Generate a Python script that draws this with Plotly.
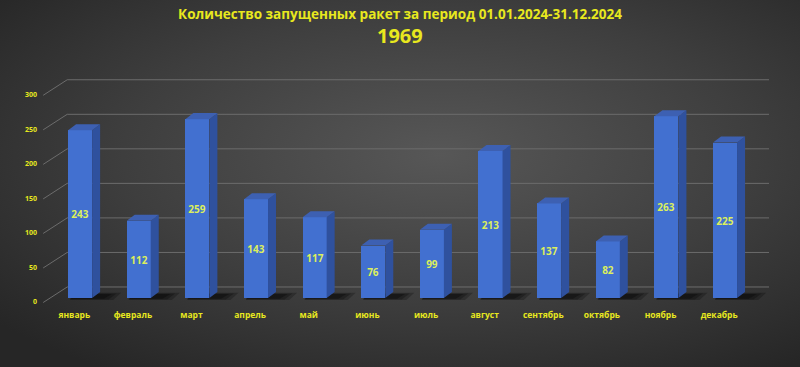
import base64
import plotly.graph_objects as go

# ---- data ----
months = ["январь", "февраль", "март", "апрель", "май", "июнь",
          "июль", "август", "сентябрь", "октябрь", "ноябрь", "декабрь"]
launches = [243, 112, 259, 143, 117, 76, 99, 213, 137, 82, 263, 225]
y_ticks = [0, 50, 100, 150, 200, 250, 300]
title_text = "Количество запущенных ракет за период 01.01.2024-31.12.2024"
total_text = "1969"

# ---- geometry / style ----
W, H = 800, 367
ML, MR, MT, MB = 42, 31, 77, 60
XR = [-0.65, 11.75]
YR = [-13, 320]
bw = 0.41              # bar width (x units)
dx, dy = 0.1365, 8.7   # 3D depth offset (x units, y units)
lab_shift = 5.8        # y-label offset (units)
xlab_shift = 0.1       # month-label offset (units)
yellow = "#e8e81e"
font_family = "Open Sans"

idx = list(range(len(months)))
shapes = []

# back-wall grid lines with diagonal connectors (below bars)
for v in y_ticks:
    path = f"M -0.63 {v - 6.5} L -0.22 {v + 16} L {XR[1]} {v + 16}"
    shapes.append(dict(type="path", path=path, xref="x", yref="y", layer="below",
                       line=dict(color="#6c6c6c", width=1)))

# soft floor shadows (below bars)
for i in idx:
    l, r = i - bw / 2, i + bw / 2
    for k, (ext, a) in enumerate([(0.36, 0.25), (0.28, 0.3), (0.2, 0.35)]):
        path = (f"M {l + 0.03} {-3 + k} L {r + ext} {-3 + k} L {r + ext + dx} {dy - 1 - k} "
                f"L {l + dx} {dy - 1 - k} Z")
        shapes.append(dict(type="path", path=path, xref="x", yref="y", layer="below",
                           fillcolor=f"rgba(5,5,5,{a})", line=dict(width=0)))

fig = go.Figure()

# front faces
fig.add_trace(go.Bar(
    x=idx, y=launches, width=bw,
    marker=dict(color="#4270d0", line=dict(width=0)),
    text=[str(v) for v in launches], textposition="inside",
    insidetextanchor="middle", textangle=0,
    textfont=dict(family=font_family, size=10, color="#dcef5c", weight="bold"),
    showlegend=False, hoverinfo="x+y",
))

# side faces
fx, fy = [], []
for i, v in zip(idx, launches):
    r = i + bw / 2
    fx += [r, r + dx, r + dx, r, r, None]
    fy += [0, dy, v + dy, v, 0, None]
fig.add_trace(go.Scatter(x=fx, y=fy, mode="lines", fill="toself",
                         fillcolor="#2f519e", line=dict(width=0),
                         hoverinfo="skip", showlegend=False))

# top faces
tx, ty = [], []
for i, v in zip(idx, launches):
    l, r = i - bw / 2, i + bw / 2
    tx += [l, r, r + dx, l + dx, l, None]
    ty += [v, v, v + dy, v + dy, v, None]
fig.add_trace(go.Scatter(x=tx, y=ty, mode="lines", fill="toself",
                         fillcolor="#3d60b2", line=dict(width=0),
                         hoverinfo="skip", showlegend=False))

# dummy traces for label axes
fig.add_trace(go.Scatter(x=[None], y=[None], yaxis="y2", showlegend=False, hoverinfo="skip"))
fig.add_trace(go.Scatter(x=[None], y=[None], xaxis="x2", showlegend=False, hoverinfo="skip"))

# background radial gradient
svg = f'''<svg xmlns="http://www.w3.org/2000/svg" width="{W}" height="{H}" viewBox="0 0 {W} {H}" preserveAspectRatio="none">
<defs><radialGradient id="g" cx="0.55" cy="0.42" r="0.72">
<stop offset="0" stop-color="#575757"/><stop offset="0.55" stop-color="#3e3e3e"/><stop offset="1" stop-color="#262626"/>
</radialGradient></defs><rect width="{W}" height="{H}" fill="url(#g)"/></svg>'''
src = "data:image/svg+xml;base64," + base64.b64encode(svg.encode()).decode()
pw, ph = W - ML - MR, H - MT - MB

fig.update_layout(
    width=W, height=H,
    margin=dict(l=ML, r=MR, t=MT, b=MB),
    paper_bgcolor="#383838", plot_bgcolor="rgba(0,0,0,0)",
    images=[dict(source=src, xref="paper", yref="paper",
                 x=-ML / pw, y=1 + MT / ph, sizex=W / pw, sizey=H / ph,
                 sizing="stretch", layer="below", xanchor="left", yanchor="top")],
    shapes=shapes,
    title=dict(text=title_text, x=0.5, xanchor="center", y=1 - 14 / H, yanchor="middle",
               yref="container",
               font=dict(family=font_family, size=13.5, color=yellow, weight="bold")),
    xaxis=dict(range=XR, showticklabels=False, showgrid=False, zeroline=False,
               showline=False, ticks="", fixedrange=True),
    xaxis2=dict(range=[XR[0] + xlab_shift, XR[1] + xlab_shift], overlaying="x", side="bottom",
                anchor="y", tickvals=idx, ticktext=months, showgrid=False, zeroline=False,
                showline=False, ticks="", ticklabelstandoff=1,
                tickfont=dict(family=font_family, size=8.5, color=yellow, weight="bold"),
                fixedrange=True),
    yaxis=dict(range=YR, showgrid=False, zeroline=False, showline=False,
               showticklabels=False, ticks="", fixedrange=True),
    yaxis2=dict(range=[YR[0] + lab_shift, YR[1] + lab_shift], overlaying="y", side="left",
                anchor="x", tickvals=y_ticks, showgrid=False, zeroline=False,
                showline=False, ticks="", ticklabelstandoff=4,
                tickfont=dict(family=font_family, size=7, color=yellow, weight="bold"),
                fixedrange=True),
    annotations=[dict(text=total_text, xref="paper", yref="paper",
                      x=(W / 2 - ML) / pw, y=1 + (MT - 36) / ph,
                      xanchor="center", yanchor="middle", showarrow=False,
                      font=dict(family=font_family, size=20, color=yellow, weight="bold"))],
    bargap=0,
)

fig.write_html("out.html")
